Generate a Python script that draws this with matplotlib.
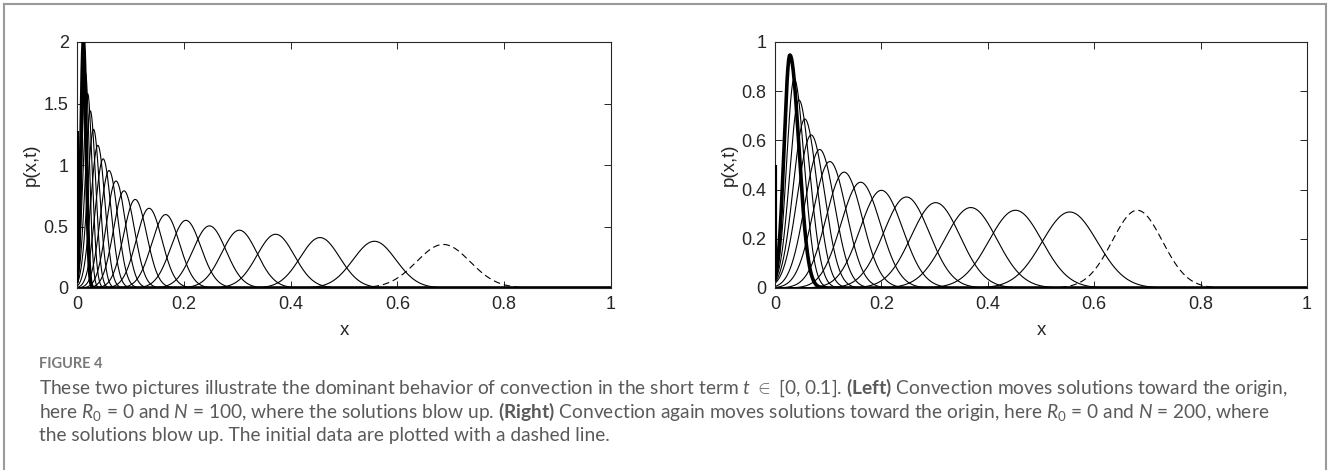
import numpy as np
import matplotlib
matplotlib.use("Agg")
import matplotlib.pyplot as plt
from matplotlib.lines import Line2D

plt.rcParams['font.family'] = ['Liberation Sans', 'DejaVu Sans']
plt.rcParams['mathtext.fontset'] = 'custom'
plt.rcParams['mathtext.rm'] = 'Lato'
plt.rcParams['mathtext.it'] = 'Lato:italic'
plt.rcParams['mathtext.bf'] = 'Lato:bold'

# peaks of the profiles, first one = initial data (dashed), last one = final time (bold)
left_peak_x = [0.686, 0.557, 0.455, 0.372, 0.304, 0.248, 0.204, 0.166, 0.135, 0.109,
               0.088, 0.073, 0.060, 0.049, 0.039, 0.031, 0.025, 0.020, 0.016, 0.012]
left_peak_y = [0.354, 0.380, 0.410, 0.437, 0.470, 0.505, 0.550, 0.597, 0.648, 0.720,
               0.790, 0.870, 0.955, 1.050, 1.160, 1.290, 1.440, 1.580, 1.750, 2.000]
left_width_r = [0.050, 0.040, 0.037, 0.035, 0.033, 0.031, 0.028, 0.026, 0.024, 0.0215,
                0.0196, 0.0178, 0.0162, 0.0148, 0.0132, 0.0115, 0.0098, 0.0085, 0.0070, 0.0050]
left_width_l = [0.050, 0.040, 0.037, 0.035, 0.033, 0.031, 0.028, 0.026, 0.024, 0.0215,
                0.0196, 0.0178, 0.0162, 0.0148, 0.0132, 0.0115, 0.0098, 0.0085, 0.0070, 0.0045]
left_wall = [0.32, 1.28]

right_peak_x = [0.681, 0.554, 0.452, 0.368, 0.302, 0.247, 0.200, 0.161, 0.130, 0.103,
                0.084, 0.068, 0.056, 0.045, 0.036, 0.028]
right_peak_y = [0.316, 0.309, 0.316, 0.327, 0.347, 0.370, 0.397, 0.430, 0.471, 0.514,
                0.563, 0.622, 0.687, 0.764, 0.850, 0.947]
right_width_r = [0.047, 0.052, 0.050, 0.049, 0.046, 0.043, 0.040, 0.037, 0.034, 0.031,
                 0.028, 0.0257, 0.0233, 0.021, 0.0188, 0.0169]
right_width_l = [0.047, 0.052, 0.050, 0.049, 0.046, 0.043, 0.040, 0.037, 0.034, 0.031,
                 0.028, 0.0257, 0.0215, 0.0175, 0.0140, 0.0110]
right_wall = [0.066, 0.498]

left_yticks = [0, 0.5, 1, 1.5, 2]
right_yticks = [0, 0.2, 0.4, 0.6, 0.8, 1]
xticks = [0, 0.2, 0.4, 0.6, 0.8, 1]

caption_lines = [
    r"These two pictures illustrate the dominant behavior of convection in the short term $t$ $\in$ [0, 0.1]. "
    r"$\mathbf{(Left)}$ Convection moves solutions toward the origin,",
    r"here $R_0$ = 0 and $N$ = 100, where the solutions blow up. $\mathbf{(Right)}$ Convection again moves "
    r"solutions toward the origin, here $R_0$ = 0 and $N$ = 200, where",
    "the solutions blow up. The initial data are plotted with a dashed line.",
]

W, H = 1328, 470
fig = plt.figure(figsize=(W / 100, H / 100), dpi=100)

x = np.linspace(0, 1, 3001)
ink = '#262626'


def draw_panel(ax, px, py, wl, wr, wall, yticks):
    n = len(px)
    for i in range(n):
        s = np.where(x < px[i], wl[i], wr[i])
        p = py[i] * np.exp(-0.5 * ((x - px[i]) / s) ** 2)
        if i == 0:
            ax.plot(x, p, color='black', lw=0.8, dashes=(6, 3.5))
        elif i == n - 1:
            ax.plot(x, p, color='black', lw=2.6, zorder=5)
        else:
            ax.plot(x, p, color='black', lw=0.8)
    ax.plot([0, 0], wall, color='black', lw=3, zorder=5, solid_capstyle='butt')
    ax.set_xlim(0, 1)
    ax.set_ylim(yticks[0], yticks[-1])
    ax.set_xticks(xticks)
    ax.set_xticklabels([f"{v:g}" for v in xticks])
    ax.set_yticks(yticks)
    ax.set_yticklabels([f"{v:g}" for v in yticks])
    ax.tick_params(direction='in', top=True, right=True, length=5, width=0.7,
                   colors=ink, labelsize=13, pad=6)
    for sp in ax.spines.values():
        sp.set_color(ink)
        sp.set_linewidth(0.8)
    ax.set_xlabel('x', fontsize=13.5, color=ink, labelpad=6)
    ax.set_ylabel('p(x,t)', fontsize=13.5, color=ink, labelpad=3)


ax1 = fig.add_axes([77 / W, 1 - 288 / H, 534 / W, 246 / H])
draw_panel(ax1, left_peak_x, left_peak_y, left_width_l, left_width_r, left_wall, left_yticks)
ax2 = fig.add_axes([775 / W, 1 - 288 / H, 532 / W, 246 / H])
draw_panel(ax2, right_peak_x, right_peak_y, right_width_l, right_width_r, right_wall, right_yticks)

# frame round the figure
border = '#9a9a9a'
fig.add_artist(Line2D([4 / W, 4 / W], [0, 1 - 4 / H], transform=fig.transFigure, color=border, lw=1.5))
fig.add_artist(Line2D([1326 / W, 1326 / W], [0, 1 - 4 / H], transform=fig.transFigure, color=border, lw=1.5))
fig.add_artist(Line2D([4 / W, 1326 / W], [1 - 4 / H, 1 - 4 / H], transform=fig.transFigure, color=border, lw=1.5))

fig.text(39 / W, 1 - 368 / H, 'FIGURE 4', family='Lato', weight='bold', fontsize=10.5,
         color='#7a7a7a', va='baseline')
for k, line in enumerate(caption_lines):
    fig.text(39 / W, 1 - (394 + 23.5 * k) / H, line, family='Lato', fontsize=13.8,
             color='#5a5a5a', va='baseline')

fig.savefig('out.png', dpi=100)
